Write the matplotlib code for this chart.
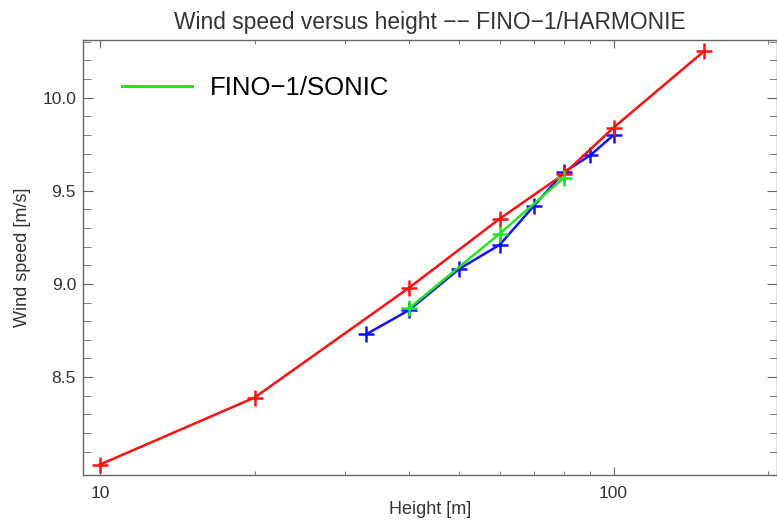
import numpy as np
import matplotlib
matplotlib.use('Agg')
import matplotlib.pyplot as plt
from matplotlib.ticker import FixedLocator, NullFormatter, FormatStrFormatter

# ── Data ──────────────────────────────────────────────────────────────────────
harmonie_h = [10, 20, 40, 60, 80, 100, 150]
harmonie_u = [8.03, 8.39, 8.98, 9.35, 9.59, 9.84, 10.25]

cup_h = [33, 40, 50, 60, 70, 80, 90, 100]
cup_u = [8.73, 8.86, 9.08, 9.21, 9.42, 9.60, 9.69, 9.80]

sonic_h = [40, 60, 80]
sonic_u = [8.87, 9.27, 9.57]

y_major = [8.5, 9.0, 9.5, 10.0]
y_minor = [8.1, 8.2, 8.3, 8.4, 8.6, 8.7, 8.8, 8.9, 9.1, 9.2, 9.3, 9.4,
           9.6, 9.7, 9.8, 9.9, 10.1, 10.2, 10.3]

# ── Figure ────────────────────────────────────────────────────────────────────
plt.rcParams['font.family'] = ['Liberation Sans', 'DejaVu Sans']
W, H = 777, 522
fig = plt.figure(figsize=(W / 100, H / 100), dpi=100)
ax = fig.add_axes([83 / W, (H - 475) / H, (W - 83) / W, (475 - 40) / H])

red, blue, green = '#ff1010', '#1010ff', '#22e622'
kw = dict(lw=1.8, marker='+', ms=12, mew=1.8)

ax.plot(cup_h, cup_u, color=blue, **kw)
ax.plot(harmonie_h, harmonie_u, color=red, **kw)
ax.plot(sonic_h, sonic_u, color=green, **kw)

# ── Axes ──────────────────────────────────────────────────────────────────────
ax.set_xscale('log')
ax.set_xlim(9.27, 208)
ax.set_ylim(7.974, 10.31)

ax.xaxis.set_major_locator(FixedLocator([10, 100]))
ax.xaxis.set_minor_locator(FixedLocator([20, 30, 40, 50, 60, 70, 80, 90, 200]))
ax.xaxis.set_minor_formatter(NullFormatter())
ax.set_xticklabels(['10', '100'])
ax.yaxis.set_major_locator(FixedLocator(y_major))
ax.yaxis.set_minor_locator(FixedLocator(y_minor))
ax.yaxis.set_major_formatter(FormatStrFormatter('%.1f'))

spine_c = '#666666'
for s in ax.spines.values():
    s.set_color(spine_c)
    s.set_linewidth(1.0)

ax.tick_params(which='both', direction='in', top=True, right=True,
               color=spine_c, labelsize=12.6, labelcolor='#333333', pad=5)
ax.tick_params(axis='x', which='major', length=6, pad=8)
ax.tick_params(axis='x', which='minor', length=3)
ax.tick_params(axis='y', which='major', length=7)
ax.tick_params(axis='y', which='minor', length=6)

ax.set_xlabel('Height [m]', fontsize=13, color='#333333', labelpad=0)
ax.set_ylabel('Wind speed [m/s]', fontsize=13, color='#333333', labelpad=8)
ax.set_title('Wind speed versus height \u2212\u2212 FINO\u22121/HARMONIE',
             fontsize=16.4, color='#333333', pad=8)

# ── Legend (single entry) ─────────────────────────────────────────────────────
ax.plot([], [], color=green, lw=2.2, label='FINO\u22121/SONIC')
handles, labels = ax.get_legend_handles_labels()
ax.legend(handles[-1:], labels[-1:], loc='upper left', frameon=False,
          fontsize=18.5, handlelength=2.7, handletextpad=0.7,
          bbox_to_anchor=(0.042, 0.94), borderaxespad=0)

fig.savefig('out.png', dpi=100)
